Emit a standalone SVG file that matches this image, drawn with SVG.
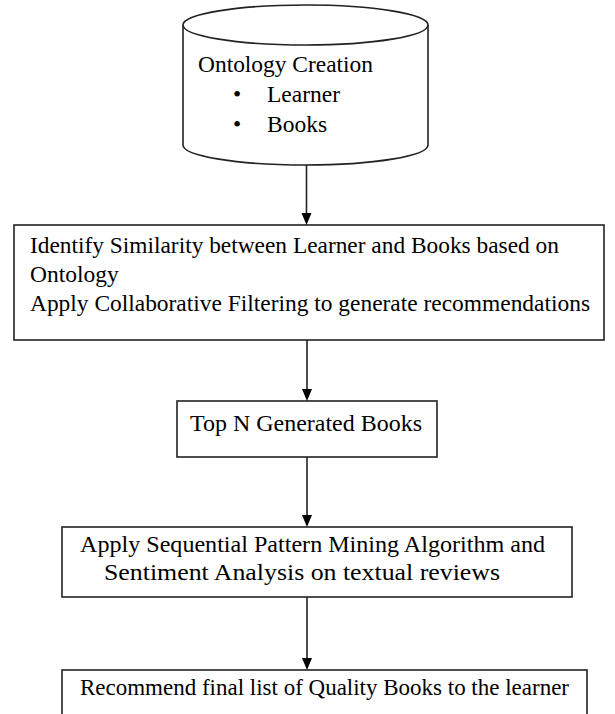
<svg xmlns="http://www.w3.org/2000/svg" width="615" height="714" viewBox="0 0 615 714">
<defs>
<style>
.shape{fill:#fff;stroke:#222;stroke-width:1.6}
.t{font-family:"Liberation Serif","Times New Roman",serif;font-size:23.5px;fill:#000}
.conn{stroke:#222;stroke-width:1.6;fill:none}
</style>
</defs>
<rect width="615" height="714" fill="#fff"/>
<g id="ontology">
<path class="shape" d="M183,25 L183,145 A122.5,20 0 0 0 428,145 L428,25"/>
<ellipse class="shape" cx="305.5" cy="25" rx="122.5" ry="20"/>
<text class="t" x="198" y="72" textLength="175" lengthAdjust="spacingAndGlyphs">Ontology Creation</text>
<text class="t" x="233" y="102">•</text>
<text class="t" x="267" y="102">Learner</text>
<text class="t" x="233" y="132">•</text>
<text class="t" x="267" y="132">Books</text>
</g>
<g id="similarity">
<rect class="shape" x="14" y="225" width="590" height="115"/>
<text class="t" x="30" y="253" textLength="529" lengthAdjust="spacingAndGlyphs">Identify Similarity between Learner and Books based on</text>
<text class="t" x="30" y="282">Ontology</text>
<text class="t" x="30" y="311" textLength="560" lengthAdjust="spacingAndGlyphs">Apply Collaborative Filtering to generate recommendations</text>
</g>
<g id="topn">
<rect class="shape" x="177" y="401" width="260" height="56"/>
<text class="t" x="190" y="431" textLength="232" lengthAdjust="spacingAndGlyphs">Top N Generated Books</text>
</g>
<g id="sequential">
<rect class="shape" x="62" y="527" width="510" height="70"/>
<text class="t" x="80" y="552" textLength="465" lengthAdjust="spacingAndGlyphs">Apply Sequential Pattern Mining Algorithm and</text>
<text class="t" x="104" y="580" textLength="396" lengthAdjust="spacingAndGlyphs">Sentiment Analysis on textual reviews</text>
</g>
<g id="recommend">
<rect class="shape" x="62" y="670" width="525" height="60"/>
<text class="t" x="80" y="695" textLength="489" lengthAdjust="spacingAndGlyphs">Recommend final list of Quality Books to the learner</text>
</g>
<g id="connectors">
<line class="conn" x1="306.5" y1="165" x2="306.5" y2="214"/>
<path d="M301.5,213 L311.5,213 L306.5,225 Z" fill="#000"/>
<line class="conn" x1="307" y1="340" x2="307" y2="390"/>
<path d="M302,389 L312,389 L307,401 Z" fill="#000"/>
<line class="conn" x1="307" y1="457" x2="307" y2="516"/>
<path d="M302,515 L312,515 L307,527 Z" fill="#000"/>
<line class="conn" x1="307" y1="597" x2="307" y2="659"/>
<path d="M302,658 L312,658 L307,670 Z" fill="#000"/>
</g>
</svg>
